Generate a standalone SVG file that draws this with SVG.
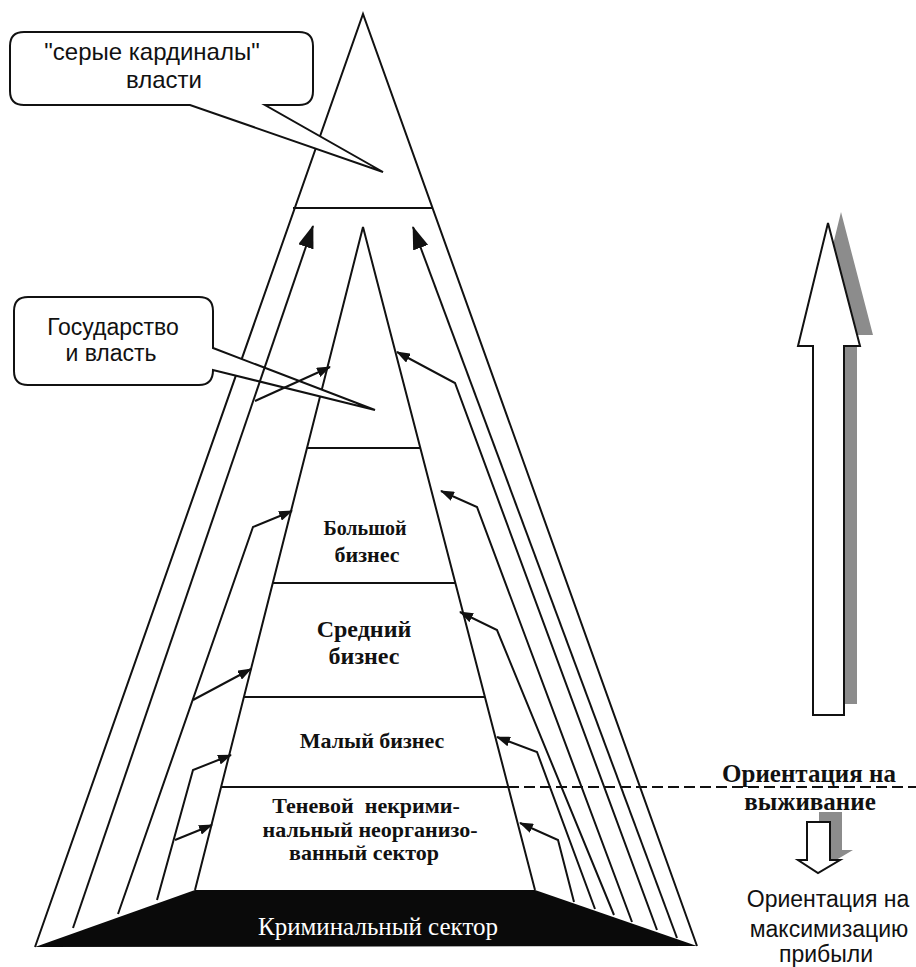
<svg xmlns="http://www.w3.org/2000/svg" width="916" height="967" viewBox="0 0 916 967">
<style>
.ln{fill:none;stroke:#111;stroke-width:2;stroke-linejoin:miter}
.co{fill:#fff;stroke:#111;stroke-width:2}
.sans{font-family:"Liberation Sans",Arial,sans-serif;fill:#111}
.lvl{font-family:"Liberation Serif","Times New Roman",serif;font-weight:bold;fill:#111;text-anchor:middle}
</style>
<defs>
<marker id="big" viewBox="0 0 24 16" markerWidth="24" markerHeight="16" refX="22" refY="8" orient="auto" markerUnits="userSpaceOnUse"><path d="M0,0 L23,8 L0,16 z" fill="#111"/></marker>
<marker id="sm" viewBox="0 0 14 10" markerWidth="14" markerHeight="10" refX="13" refY="5" orient="auto" markerUnits="userSpaceOnUse"><path d="M0,0 L14,5 L0,10 z" fill="#111"/></marker>
</defs>
<rect width="916" height="967" fill="#fff"/>
<g id="criminal">
<polygon points="35,947 195,890 535,890 697,946" fill="#0a0a0a"/>
<text x="378" y="935" font-family="Liberation Serif,serif" font-size="25" fill="#fff" text-anchor="middle">Криминальный сектор</text>
</g>
<g id="outer-pyramid">
<polyline class="ln" points="35,947 363,14 697,946"/>
<line class="ln" x1="293" y1="208" x2="433" y2="208"/>
</g>
<g id="inner-pyramid">
<polyline class="ln" points="195,890 363,227 535,890"/>
<line class="ln" x1="307" y1="448" x2="420" y2="448"/>
<line class="ln" x1="273" y1="583" x2="455" y2="583"/>
<line class="ln" x1="244" y1="697" x2="485" y2="697"/>
<line class="ln" x1="221" y1="787" x2="508" y2="787"/>
</g>
<g id="level-big"><text class="lvl" x="365" y="535" font-size="20">Большой</text><text class="lvl" x="367" y="562" font-size="22">бизнес</text></g>
<g id="level-mid"><text class="lvl" x="364" y="637" font-size="24">Средний</text><text class="lvl" x="364" y="664" font-size="24">бизнес</text></g>
<g id="level-small"><text class="lvl" x="372" y="748" font-size="22">Малый бизнес</text></g>
<g id="level-shadow"><text class="lvl" x="366" y="813" font-size="22" xml:space="preserve">Теневой  некрими-</text><text class="lvl" x="370" y="837" font-size="22">нальный неорганизо-</text><text class="lvl" x="364" y="860" font-size="22">ванный сектор</text></g>
<g id="callout-cardinals">
<path class="co" d="M24,32 H299 Q313,32 313,46 V91 Q313,105 299,105 H265 L383,172 L190,105 H24 Q10,105 10,91 V46 Q10,32 24,32 Z"/>
<text class="sans" x="152" y="60" font-size="24" text-anchor="middle">"серые кардиналы"</text>
<text class="sans" x="164" y="88" font-size="24" text-anchor="middle">власти</text>
</g>
<g id="callout-state">
<path class="co" d="M28,297 H199 Q213,297 213,311 V348 L375,410 L213,370 Q213,385 199,385 H28 Q14,385 14,371 V311 Q14,297 28,297 Z"/>
<text class="sans" x="113" y="335" font-size="23" text-anchor="middle">Государство</text>
<text class="sans" x="111" y="361" font-size="23" text-anchor="middle">и власть</text>
</g>
<g id="connectors">
<polyline class="ln" points="73,928 313,226" marker-end="url(#big)"/>
<polyline class="ln" points="255,401 330,367" marker-end="url(#sm)"/>
<polyline class="ln" points="118,914 253,527 292,511" marker-end="url(#sm)"/>
<polyline class="ln" points="193,700 251,669" marker-end="url(#sm)"/>
<polyline class="ln" points="157,900 193,770 231,755" marker-end="url(#sm)"/>
<polyline class="ln" points="175,840 212,825" marker-end="url(#sm)"/>
<polyline class="ln" points="677,938 413,227" marker-end="url(#big)"/>
<polyline class="ln" points="657,930 455,383 397,352" marker-end="url(#sm)"/>
<polyline class="ln" points="632,922 477,507 441,491" marker-end="url(#sm)"/>
<polyline class="ln" points="614,915 497,630 460,612" marker-end="url(#sm)"/>
<polyline class="ln" points="595,909 537,752 497,737" marker-end="url(#sm)"/>
<polyline class="ln" points="574,902 558,840 520,823" marker-end="url(#sm)"/>
<line x1="508" y1="787" x2="916" y2="787" stroke="#111" stroke-width="2" stroke-dasharray="11 5"/>
</g>
<g id="trend-up">
<polygon points="841,212 873,335 857,335 857,704 826,704 826,335 811,335" fill="#8c8c8c"/>
<polygon points="828,223 860,346 844,346 844,715 813,715 813,346 798,346" fill="#fff" stroke="#111" stroke-width="2"/>
</g>
<g id="label-survival">
<text class="lvl" x="809" y="782" font-size="25">Ориентация на</text>
<text class="lvl" x="810" y="810" font-size="25">выживание</text>
</g>
<g id="trend-down">
<polygon points="819,812 842,812 842,850 853,850 831,863 810,850 819,850" fill="#8c8c8c"/>
<polygon points="807,822 830,822 830,860 840,860 818,873 798,860 807,860" fill="#fff" stroke="#111" stroke-width="2"/>
</g>
<g id="label-profit">
<text class="sans" x="828" y="907" font-size="23" text-anchor="middle">Ориентация на</text>
<text class="sans" x="829" y="937" font-size="23" text-anchor="middle">максимизацию</text>
<text class="sans" x="826" y="962" font-size="23" text-anchor="middle">прибыли</text>
</g>
</svg>
